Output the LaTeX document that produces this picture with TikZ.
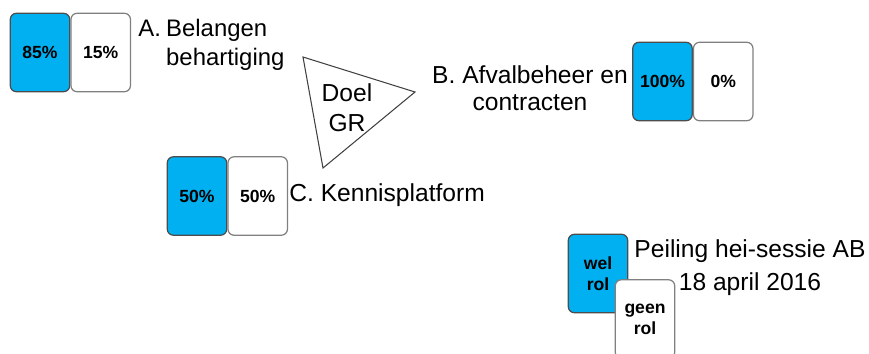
\documentclass[tikz,border=0pt]{standalone}
\usepackage{fontspec}
\setmainfont{Liberation Sans}
\usetikzlibrary{positioning}
\definecolor{pollblue}{RGB}{0,176,240}
\tikzset{
  votebox/.style={draw, rounded corners=3.5pt, minimum width=1.19cm, minimum height=1.57cm, inner sep=0pt, align=center, line width=0.7pt, font=\fontsize{10}{12}\selectfont\bfseries},
  welbox/.style={votebox, fill=pollblue, draw=black!70},
  geenbox/.style={votebox, fill=white, draw=black!50},
  itemtext/.style={inner sep=0pt, font=\fontsize{14}{17}\selectfont}
}
\begin{document}
\begin{tikzpicture}[x=0.02cm, y=-0.02cm]
\useasboundingbox (0,0) rectangle (869,353);
\node[welbox] (a85) at (40,52.5) {85\%};
\node[geenbox, right=0pt of a85] (a15) {15\%};
\node[itemtext, anchor=west, font=\fontsize{13.6}{17}\selectfont] (atext) at (138,45) {\begin{tabular}{@{}l@{\hspace{3pt}}l@{}}A.&Belangen\\&behartiging\end{tabular}};
\node[welbox] (b100) at (662.5,81.5) {100\%};
\node[geenbox, right=0pt of b100] (b0) {0\%};
\node[itemtext, align=center, font=\fontsize{14}{15.4}\selectfont] (btext) at (530,88) {B. Afvalbeheer en\\contracten};
\node[welbox] (c50a) at (197,196) {50\%};
\node[geenbox, right=0pt of c50a] (c50b) {50\%};
\node[itemtext, anchor=west] (ctext) at (289,195) {C. Kennisplatform};
\coordinate (tl) at (303,57);
\coordinate (tr) at (415,92);
\coordinate (tb) at (323,168);
\draw[line width=0.6pt, black!75] (tl) -- (tr) -- (tb) -- cycle;
\node[itemtext, align=center] (doel) at (347,108) {Doel\\GR};
\node[welbox] (wel) at (598,273.5) {wel\\rol};
\node[geenbox] (geen) at (645,319) {geen\\rol};
\node[itemtext, align=center, font=\fontsize{14}{18.8}\selectfont] (peiling) at (750,268) {Peiling hei-sessie AB\\18 april 2016};
\end{tikzpicture}
\end{document}
